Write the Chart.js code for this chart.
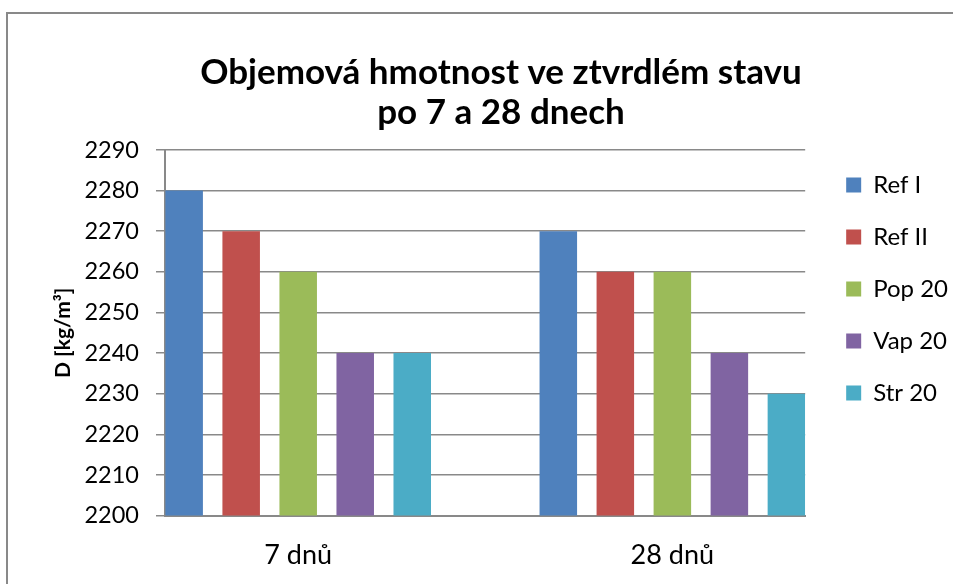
<!DOCTYPE html>
<html>
<head>
<meta charset="utf-8">
<script src="https://cdn.jsdelivr.net/npm/chart.js@4"></script>
<style>
  body { margin: 0; background: #fff; overflow: hidden; }
  .frame { position: absolute; left: 6px; top: 12px; width: 1000px; height: 1000px; border: 2px solid #898989; }
  canvas { position: absolute; left: 0; top: 0; }
</style>
</head>
<body>
<div class="frame"></div>
<canvas id="chart" width="953" height="584"></canvas>
<script>
// Objemová hmotnost

const categories = ["7 dnů", "28 dnů"];
const seriesNames = ["Ref I", "Ref II", "Pop 20", "Vap 20", "Str 20"];
const refI = [2280, 2270];
const refII = [2270, 2260];
const pop20 = [2260, 2260];
const vap20 = [2240, 2240];
const str20 = [2240, 2230];
const yTicks = [2200, 2210, 2220, 2230, 2240, 2250, 2260, 2270, 2280, 2290];

const colors = ["#4F81BD", "#C0504D", "#9BBB59", "#8064A2", "#4BACC6"];
const font = "Lato, 'Open Sans', sans-serif";
const gray = "#898989";

const datasets = [refI, refII, pop20, vap20, str20].map((values, i) => ({
  label: seriesNames[i],
  backgroundColor: colors[i],
  borderWidth: 0,
  data: values.map((v, j) => ({ x: j, y: v })),
}));

// legend sits a bit further from the plot than its item padding
const legendShift = {
  id: "legendShift",
  afterLayout(chart) {
    const lg = chart.legend;
    lg.left += 13;
    lg.right += 13;
    lg.top -= 8;
    lg.bottom -= 8;
  },
};

const ctx = document.getElementById("chart").getContext("2d");

const config = {
  type: "bar",
  data: { datasets },
  plugins: [legendShift],
  options: {
    responsive: false,
    animation: false,
    categoryPercentage: 0.762,
    barPercentage: 0.658,
    layout: { padding: { left: 57, right: 8, top: 0, bottom: -10 } },
    plugins: {
      title: {
        display: true,
        text: ["Objemová hmotnost ve ztvrdlém stavu", "po 7 a 28 dnech"],
        color: "#000",
        font: { family: font, size: 35, weight: "bold", lineHeight: 40 / 35 },
        padding: { top: 53, bottom: 17 },
      },
      legend: {
        position: "right",
        align: "center",
        labels: {
          color: "#000",
          font: { family: font, size: 24 },
          boxWidth: 15,
          boxHeight: 15,
          padding: 28,
        },
      },
      tooltip: { enabled: false },
    },
    scales: {
      x: {
        type: "linear",
        offset: false,
        min: -0.356,
        max: 1.355,
        grid: { display: false, drawTicks: false },
        border: { display: true, color: gray, width: 2 },
        ticks: {
          color: "#000",
          font: { family: font, size: 27 },
          padding: 23,
          maxRotation: 0,
          autoSkip: false,
          callback: (v, i) => categories[i],
        },
        afterBuildTicks: (axis) => {
          axis.ticks = categories.map((c, i) => ({ value: i }));
        },
      },
      y: {
        min: 2200,
        max: 2290,
        grid: { color: gray, lineWidth: 1.5, tickLength: 9 },
        border: { color: gray, width: 2 },
        ticks: {
          color: "#000",
          font: { family: font, size: 23.5 },
          padding: 17,
          callback: (v) => String(v),
        },
        afterBuildTicks: (axis) => {
          axis.ticks = yTicks.map((v) => ({ value: v }));
        },
        afterFit: (axis) => {
          axis.width = 165 - 57;
        },
        title: {
          display: true,
          text: "D [kg/m³]",
          color: "#000",
          font: { family: font, size: 21, weight: "bold" },
          padding: { top: -6, bottom: 0 },
        },
      },
    },
  },
};

const myChart = new Chart(ctx, config);
</script>
</body>
</html>
